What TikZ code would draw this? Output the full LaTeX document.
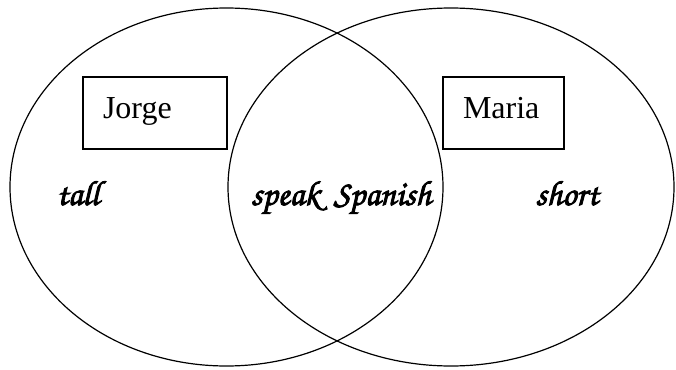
\documentclass[tikz,border=0pt]{standalone}
\usepackage{fontspec}
\setmainfont{Liberation Serif}
\newfontfamily\brushfont[FakeBold=2.5]{texgyrechorus-mediumitalic.otf}

\tikzset{
    namebox/.style={draw, line width=1.2pt, minimum height=72pt, align=left,
        inner ysep=0pt, text height=18pt, text depth=8pt,
        font=\fontsize{32}{32}\selectfont},
    trait/.style={anchor=base, font=\brushfont\fontsize{35}{35}\selectfont}
}

\begin{document}
\begin{tikzpicture}[x=1pt, y=-1pt]
    \useasboundingbox (0,0) rectangle (676,369);

    % Sets
    \draw[line width=1.2pt] (226.5,187) ellipse (216.5 and 179);
    \draw[line width=1.2pt] (451,187) ellipse (223 and 179);

    % Names
    \node[namebox, text width=104pt, inner xsep=20pt] (jorge) at (155,113) {Jorge};
    \node[namebox, text width=81pt, inner xsep=20pt] (maria) at (503.5,113) {Maria};

    % Traits
    \node[trait] (tall) at (78,205) {tall};
    \node[trait] (spanish) at (341,205) {speak\hspace{14pt}Spanish};
    \node[trait] (short) at (567,205) {short};

\end{tikzpicture}
\end{document}
